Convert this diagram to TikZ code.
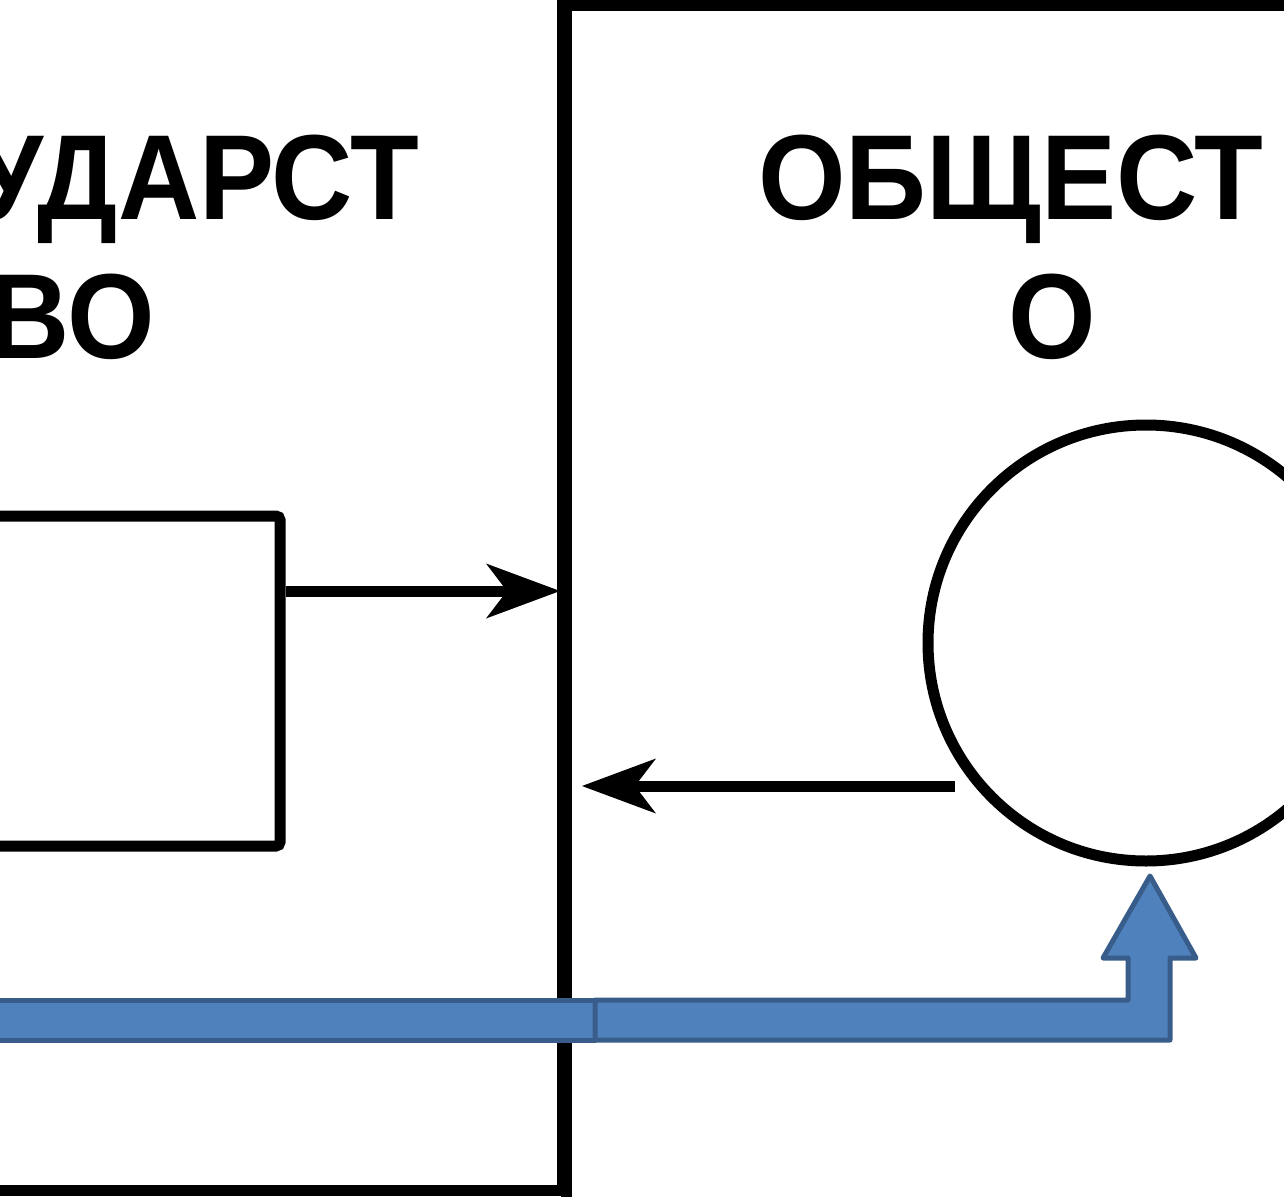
\documentclass[tikz,border=0pt]{standalone}
\usepackage{fontspec}
\usepackage{graphicx}
\setmainfont{Liberation Sans}
\usetikzlibrary{arrows.meta,positioning}
\definecolor{bandfill}{HTML}{4F81BD}
\definecolor{bandedge}{HTML}{385D8A}
\newcommand{\narrowed}[1]{\scalebox{0.93}[1]{#1}}

\begin{document}
\begin{tikzpicture}[
  x=1pt, y=-1pt,
  every node/.style={font=\fontsize{121}{140}\selectfont\bfseries, inner sep=0pt},
  frame/.style={draw, line width=11pt},
  inst/.style={draw, line width=11pt, rounded corners=4pt, minimum width=340pt, minimum height=330pt},
  grp/.style={draw, circle, line width=11pt, minimum size=436pt},
  link/.style={line width=11pt, -{Stealth[length=74pt, width=55pt, inset=21pt, line width=0pt]}},
  band/.style={fill=bandfill, draw=bandedge, line width=5pt, line join=round},
]
  \useasboundingbox (0,0) rectangle (1284,1196);
  \clip (0,0) rectangle (1284,1196);

  % the two spheres
  \draw[frame] (-100,-100) rectangle (562,1190);
  \draw[frame] (566,6) rectangle (1400,1400);

  \node[anchor=base east] (gov1) at (419,219) {\narrowed{УДАРСТ}};
  \node[anchor=base east] (gov2) at (155,358) {\narrowed{ВО}};
  \node[anchor=base west] (soc1) at (758,219) {\narrowed{ОБЩЕСТ}};
  \node[anchor=base] (soc2) at (1052,358) {\narrowed{О}};

  \node[inst] (organ) at (110,681) {};
  \node[grp] (people) at (1146,643) {};

  \coordinate (hitL) at (560,591);
  \coordinate (tailR) at (955,786);
  \coordinate (hitR) at (582,786);
  \draw[link] ([yshift=90pt]organ.east) -- (hitL);
  \draw[link] (tailR) -- (hitR);

  % feedback band
  \draw[band] (-20,1000) -- (595,1000) -- (595,1040) -- (-20,1040) -- cycle;
  \draw[band] (595,1000) -- (1128,1000) -- (1128,958) -- (1103,958) -- (1150,876)
    -- (1196,958) -- (1170,958) -- (1170,1040) -- (595,1040) -- cycle;
\end{tikzpicture}
\end{document}
